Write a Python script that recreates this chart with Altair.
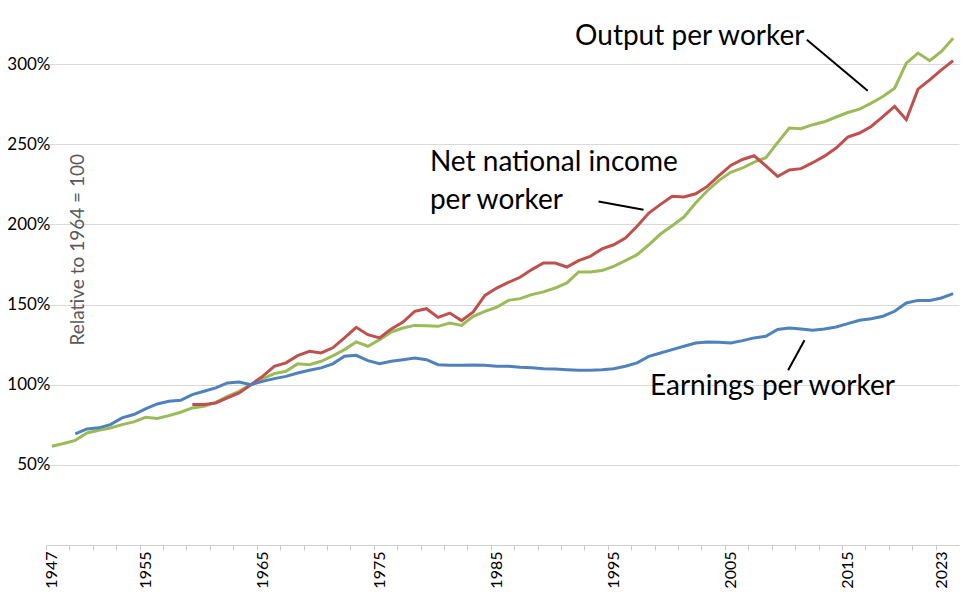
import altair as alt
import pandas as pd

# years shown on the category axis
years = list(range(1947, 2025))

# series values relative to 1964 (1.0 = 100%)
output_per_worker = [
    0.616, 0.633, 0.653, 0.699, 0.716, 0.730, 0.751, 0.768, 0.797, 0.789,  # 1947-1956
    0.807, 0.828, 0.855, 0.866, 0.890, 0.928, 0.959, 1.000, 1.036, 1.069,  # 1957-1966
    1.084, 1.130, 1.125, 1.146, 1.180, 1.219, 1.267, 1.240, 1.281, 1.329,  # 1967-1976
    1.354, 1.370, 1.368, 1.364, 1.385, 1.370, 1.426, 1.458, 1.483, 1.526,  # 1977-1986
    1.537, 1.562, 1.579, 1.603, 1.635, 1.703, 1.703, 1.713, 1.738, 1.774,  # 1987-1996
    1.811, 1.873, 1.940, 1.992, 2.046, 2.133, 2.210, 2.275, 2.325, 2.352,  # 1997-2006
    2.388, 2.416, 2.510, 2.601, 2.597, 2.622, 2.640, 2.670, 2.698, 2.719,  # 2007-2016
    2.757, 2.798, 2.850, 3.006, 3.069, 3.021, 3.079, 3.162,                # 2017-2024
]

earnings_start = 1949
earnings_per_worker = [
    0.693, 0.724, 0.731, 0.751, 0.793, 0.814, 0.849, 0.880, 0.897, 0.903,  # 1949-1958
    0.938, 0.959, 0.980, 1.011, 1.017, 1.000, 1.021, 1.038, 1.052, 1.073,  # 1959-1968
    1.090, 1.105, 1.130, 1.177, 1.183, 1.150, 1.131, 1.146, 1.156, 1.167,  # 1969-1978
    1.156, 1.125, 1.121, 1.121, 1.123, 1.121, 1.115, 1.115, 1.109, 1.105,  # 1979-1988
    1.100, 1.098, 1.094, 1.090, 1.090, 1.094, 1.100, 1.115, 1.136, 1.177,  # 1989-1998
    1.198, 1.219, 1.240, 1.260, 1.267, 1.265, 1.260, 1.275, 1.292, 1.302,  # 1999-2008
    1.344, 1.354, 1.348, 1.339, 1.348, 1.360, 1.381, 1.402, 1.412, 1.427,  # 2009-2018
    1.458, 1.510, 1.526, 1.526, 1.541, 1.568,                              # 2019-2024
]

nni_start = 1959
nni_per_worker = [
    0.876, 0.876, 0.886, 0.918, 0.949, 1.000, 1.052, 1.115, 1.136, 1.181,  # 1959-1968
    1.208, 1.198, 1.230, 1.292, 1.358, 1.312, 1.292, 1.348, 1.391, 1.458,  # 1969-1978
    1.474, 1.420, 1.447, 1.400, 1.454, 1.557, 1.603, 1.638, 1.670, 1.718,  # 1979-1988
    1.759, 1.759, 1.734, 1.774, 1.801, 1.847, 1.873, 1.915, 1.988, 2.071,  # 1989-1998
    2.125, 2.175, 2.171, 2.191, 2.237, 2.305, 2.368, 2.405, 2.428, 2.365,  # 1999-2008
    2.299, 2.340, 2.348, 2.385, 2.426, 2.476, 2.545, 2.570, 2.611, 2.673,  # 2009-2018
    2.736, 2.653, 2.844, 2.902, 2.964, 3.022,                              # 2019-2024
]

series_names = ["Output per worker", "Net national income per worker", "Earnings per worker"]
series_colors = ["#9BBB59", "#C0504D", "#4F81BD"]

y_ticks = [0.5, 1.0, 1.5, 2.0, 2.5, 3.0]
label_years = [1947, 1955, 1965, 1975, 1985, 1995, 2005, 2015, 2023]
tick_years = list(range(1947, 2027, 2))  # ticks sit half a year before these

# callout texts and their leader lines (in year / value units)
notes = pd.DataFrame({
    "label": ["Output per worker", "Net national income", "per worker", "Earnings per worker"],
    "year": [1991.7, 1979.3, 1979.3, 1998.1],
    "value": [3.17, 2.385, 2.148, 0.988],
})
leaders = pd.DataFrame({
    "x0": [2011.5, 1993.7, 2011.3],
    "x1": [2016.7, 1997.55, 2009.9],
    "y0": [3.152, 2.143, 1.277],
    "y1": [2.834, 2.092, 1.090],
})
axis_note = pd.DataFrame({"label": ["Relative to 1964 = 100"], "year": [1949.2], "value": [1.842]})

rows = []
for name, start, vals in [
    (series_names[0], 1947, output_per_worker),
    (series_names[1], nni_start, nni_per_worker),
    (series_names[2], earnings_start, earnings_per_worker),
]:
    for i, v in enumerate(vals):
        rows.append({"series": name, "year": start + i, "value": v})
data = pd.DataFrame(rows)

FONT = "Lato"
half_year_px = 11.7 / 2
x_scale = alt.Scale(domain=[1946.5, 2024.5], nice=False, zero=False)
y_scale = alt.Scale(domain=[0, 3.35], nice=False)
y_axis = alt.Axis(
    title=None, values=y_ticks, format=".0%", domain=False, ticks=False,
    labelPadding=-4, labelFontSize=17, labelFont=FONT, labelColor="black",
    gridColor="#d9d9d9", gridWidth=1.2,
)

# tick marks between the years, no labels
lines = alt.Chart(data).mark_line(strokeWidth=3).encode(
    x=alt.X(
        "year:Q", scale=x_scale,
        axis=alt.Axis(
            title=None, orient="bottom", values=tick_years, labels=False,
            tickOffset=-half_year_px, tickSize=5, tickColor="#c8c8c8",
            domainColor="#d0d0d0", grid=False,
        ),
    ),
    y=alt.Y("value:Q", scale=y_scale, axis=y_axis),
    color=alt.Color("series:N", scale=alt.Scale(domain=series_names, range=series_colors), legend=None),
    detail="series:N",
)

leader_rules = alt.Chart(leaders).mark_rule(color="black", strokeWidth=2).encode(
    x=alt.X("x0:Q", axis=None), x2="x1:Q",
    y=alt.Y("y0:Q", axis=y_axis), y2="y1:Q",
)

note_text = alt.Chart(notes).mark_text(
    align="left", baseline="middle", fontSize=28, font=FONT, color="black"
).encode(
    x=alt.X("year:Q", axis=None),
    y=alt.Y("value:Q", axis=y_axis),
    text="label:N",
)

# the rotated note also carries the year labels of the x axis
axis_text = alt.Chart(axis_note).mark_text(
    angle=270, align="center", baseline="middle", fontSize=19, font=FONT, color="#595959"
).encode(
    x=alt.X(
        "year:Q", scale=x_scale,
        axis=alt.Axis(
            title=None, orient="bottom", values=label_years, format="d",
            labelAngle=270, labelFontSize=16, labelFont=FONT, labelColor="black",
            labelFlush=False, labelOverlap=False, labelPadding=6,
            ticks=False, domain=False, grid=False,
        ),
    ),
    y=alt.Y("value:Q", scale=y_scale, axis=y_axis),
    text="label:N",
)

chart = alt.layer(lines, leader_rules, note_text, axis_text).resolve_axis(
    x="independent"
).properties(
    width=913,
    height=537,
    autosize=alt.AutoSizeParams(type="none"),
    padding={"left": 38, "top": 0, "right": 10, "bottom": 45},
).configure_view(stroke=None)

chart.save("out.html", embed_options={"renderer": "svg", "actions": False})
